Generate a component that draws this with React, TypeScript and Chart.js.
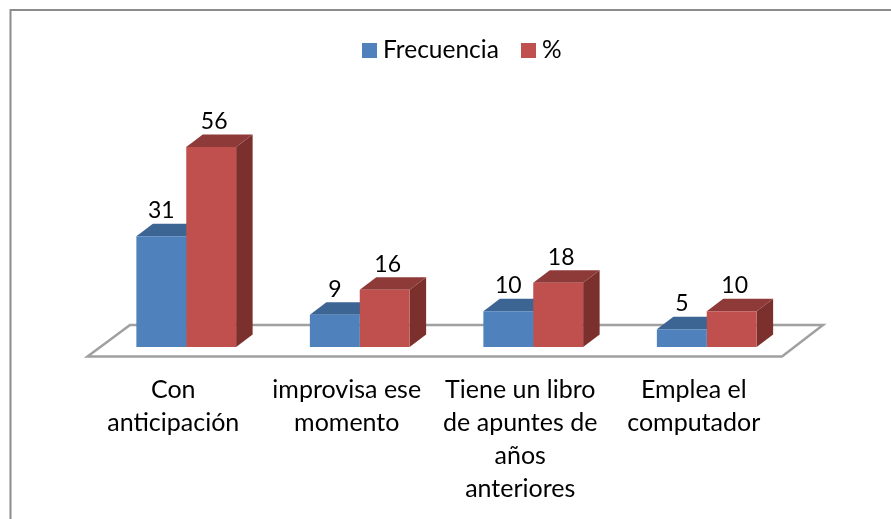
import React, { useEffect, useRef } from "react";
import { Chart, registerables } from "chart.js";

Chart.register(...registerables);

const categories = [
  ["Con", "anticipación"],
  ["improvisa ese", "momento"],
  ["Tiene un libro", "de apuntes de", "años", "anteriores"],
  ["Emplea el", "computador"],
];
const frecuencia = [31, 9, 10, 5];
const porcentaje = [56, 16, 18, 10];

const FONT = "Lato, Carlito, Calibri, sans-serif";
const TICK_SIZE = 25;
const LEGEND_SIZE = 24.5;
const VALUE_SIZE = 23;
const DX = 16.5;
const DY = 12.5;

const shades = [
  { front: "#4F81BD", top: "#3D6594", side: "#335580", labelDx: 0 },
  { front: "#C0504D", top: "#8E3A38", side: "#7B302E", labelDx: 3 },
];

const threeD = {
  id: "threeD",
  beforeDraw(chart: any) {
    const { ctx, width, height } = chart;
    ctx.save();
    ctx.lineWidth = 2;
    ctx.strokeStyle = "#8C8C8C";
    ctx.beginPath();
    ctx.moveTo(10.5, height);
    ctx.lineTo(10.5, 10);
    ctx.lineTo(width, 10);
    ctx.stroke();
    ctx.restore();
  },
  beforeDatasetsDraw(chart: any) {
    const { ctx, chartArea, scales } = chart;
    const base = scales.y.getPixelForValue(0);
    const l = chartArea.left;
    const r = chartArea.right;
    ctx.save();
    // floor
    ctx.strokeStyle = "#A0A0A0";
    ctx.lineWidth = 2.5;
    ctx.lineJoin = "miter";
    ctx.beginPath();
    ctx.moveTo(l - 12, base + 9.5);
    ctx.lineTo(r - 11.5, base + 9.5);
    ctx.lineTo(r + 29.5, base - 22);
    ctx.lineTo(l + 30.5, base - 22);
    ctx.closePath();
    ctx.stroke();
    // tops and sides
    chart.data.datasets.forEach((_: any, i: number) => {
      const c = shades[i];
      chart.getDatasetMeta(i).data.forEach((bar: any) => {
        const x0 = bar.x - bar.width / 2;
        const x1 = bar.x + bar.width / 2;
        const y = bar.y;
        const b = bar.base;
        ctx.fillStyle = c.side;
        ctx.beginPath();
        ctx.moveTo(x1, y);
        ctx.lineTo(x1 + DX, y - DY);
        ctx.lineTo(x1 + DX, b - DY);
        ctx.lineTo(x1, b);
        ctx.closePath();
        ctx.fill();
        ctx.fillStyle = c.top;
        ctx.beginPath();
        ctx.moveTo(x0, y);
        ctx.lineTo(x0 + DX, y - DY);
        ctx.lineTo(x1 + DX, y - DY);
        ctx.lineTo(x1, y);
        ctx.closePath();
        ctx.fill();
      });
    });
    ctx.restore();
  },
  afterDatasetsDraw(chart: any) {
    const { ctx } = chart;
    ctx.save();
    ctx.fillStyle = "#000";
    ctx.font = `${VALUE_SIZE}px ${FONT}`;
    ctx.textAlign = "center";
    ctx.textBaseline = "alphabetic";
    chart.data.datasets.forEach((ds: any, i: number) => {
      chart.getDatasetMeta(i).data.forEach((bar: any, j: number) => {
        ctx.fillText(String(ds.data[j]), bar.x + shades[i].labelDx, bar.y - 18);
      });
    });
    // legend
    ctx.font = `${LEGEND_SIZE}px ${FONT}`;
    ctx.textAlign = "left";
    const legendX = [362, 521];
    chart.data.datasets.forEach((ds: any, i: number) => {
      ctx.fillStyle = ds.backgroundColor;
      ctx.fillRect(legendX[i], 43, 15, 15);
      ctx.fillStyle = "#000";
      ctx.fillText(ds.label, legendX[i] + 21, 58);
    });
    ctx.restore();
  },
};

export default function App() {
  const ref = useRef<HTMLCanvasElement>(null);
  useEffect(() => {
    const chart = new Chart(ref.current!, {
      type: "bar",
      data: {
        labels: categories as any,
        datasets: [
          { label: "Frecuencia", data: frecuencia, backgroundColor: shades[0].front },
          { label: "%", data: porcentaje, backgroundColor: shades[1].front },
        ],
      },
      options: {
        animation: false,
        responsive: false,
        devicePixelRatio: 1,
        layout: { padding: { left: 99.5, right: 97.5, top: 132.7, bottom: 0 } },
        datasets: { bar: { barPercentage: 1, categoryPercentage: 0.575 } },
        plugins: { legend: { display: false }, title: { display: false }, tooltip: { enabled: false } },
        scales: {
          y: { display: false, min: 0, max: 60 },
          x: {
            afterFit: (s: any) => {
              s.height = 172;
            },
            grid: { display: false },
            border: { display: false },
            ticks: {
              autoSkip: false,
              maxRotation: 0,
              minRotation: 0,
              labelOffset: -13,
              padding: 18,
              color: "#000",
              font: { family: FONT, size: TICK_SIZE, lineHeight: 33 / TICK_SIZE },
            },
          },
        },
      },
      plugins: [threeD],
    } as any);
    return () => chart.destroy();
  }, []);
  return (
    <canvas
      ref={ref}
      width={891}
      height={519}
      style={{ position: "fixed", left: 0, top: 0, width: 891, height: 519, background: "#fff" }}
    />
  );
}
